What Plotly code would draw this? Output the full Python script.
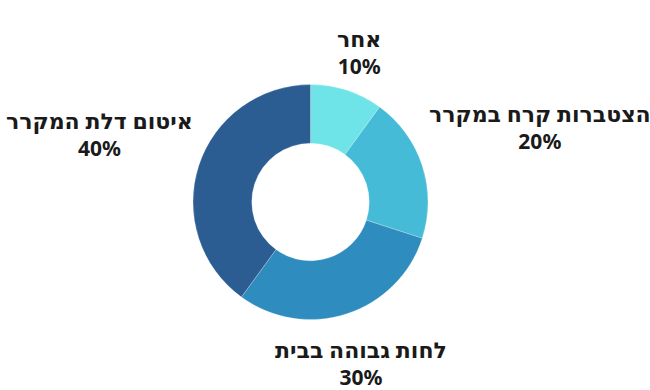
import plotly.graph_objects as go

categories = ["אחר", "הצטברות קרח במקרר", "לחות גבוהה בבית", "איטום דלת המקרר"]
values = [10, 20, 30, 40]
colors = ["#6ee3e8", "#45bbd8", "#2f8cbe", "#2c5d92"]

# label anchor positions (pixels in a 650x390 canvas), centers of each two-line label
label_pos = [(359, 52), (540, 127), (361, 362), (99, 133)]

W, H = 650, 390
fig = go.Figure(go.Pie(
    labels=categories,
    values=values,
    hole=0.5,
    sort=False,
    direction="clockwise",
    rotation=0,
    marker=dict(colors=colors, line=dict(color="rgba(255,255,255,0.4)", width=0.6)),
    textinfo="none",
    hoverinfo="label+percent",
    showlegend=False,
    domain=dict(x=[193 / W, 428 / W], y=[(H - 320) / H, (H - 84) / H]),
))

total = sum(values)
for cat, val, (px, py) in zip(categories, values, label_pos):
    pct = f"{round(val / total * 100)}%"
    fig.add_annotation(
        x=px / W, y=1 - py / H, xref="paper", yref="paper",
        text=f"<b><span style='font-size:22px'>{cat}</span></b><br><b>{pct}</b>",
        showarrow=False, xanchor="center", yanchor="middle",
        align="center",
        font=dict(family="Noto Sans, DejaVu Sans, sans-serif", size=21, color="#1a1a1a"),
    )

fig.update_layout(
    width=W, height=H,
    margin=dict(l=0, r=0, t=0, b=0),
    paper_bgcolor="white", plot_bgcolor="white",
)
fig.write_html("out.html")
